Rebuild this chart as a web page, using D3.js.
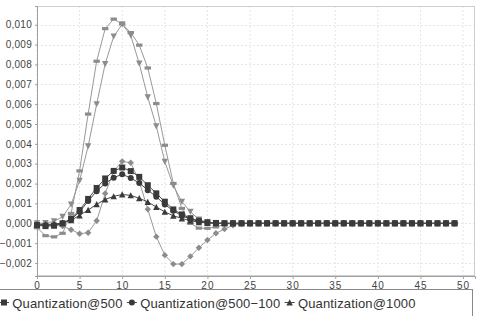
<!DOCTYPE html>
<html><head><meta charset="utf-8">
<script src="https://cdn.jsdelivr.net/npm/d3@7"></script>
<style>
html,body{margin:0;padding:0;background:#fff;overflow:hidden}
text{font-family:"Liberation Sans",Arial,sans-serif}
</style></head>
<body><svg id="c" width="484" height="316"></svg>
<script>
const xs = [0,1,2,3,4,5,6,7,8,9,10,11,12,13,14,15,16,17,18,19,20,21,22,23,24,25,26,27,28,29,30,31,32,33,34,35,36,37,38,39,40,41,42,43,44,45,46,47,48,49];
const seriesNames = ["Quantization@500","Quantization@500\u2212100","Quantization@1000","Quantization@A","Quantization@B","Quantization@C"];
const q500 = [-0.00009,-0.00014,-0.00012,0.00000,0.00024,0.00067,0.00123,0.00178,0.00226,0.00264,0.00281,0.00263,0.00234,0.00192,0.00151,0.00109,0.00070,0.00045,0.00026,0.00013,0.00005,0.00002,0,0,0,0,0,0,0,0,0,0,0,0,0,0,0,0,0,0,0,0,0,0,0,0,0,0,0,0];
const q500_100 = [-0.00010,-0.00010,-0.00008,0.00000,0.00020,0.00058,0.00112,0.00162,0.00201,0.00230,0.00247,0.00228,0.00203,0.00167,0.00134,0.00095,0.00063,0.00038,0.00021,0.00010,0.00004,0.00001,0,0,0,0,0,0,0,0,0,0,0,0,0,0,0,0,0,0,0,0,0,0,0,0,0,0,0,0];
const q1000 = [-0.00005,-0.00006,-0.00004,0.00002,0.00016,0.00040,0.00067,0.00096,0.00120,0.00136,0.00145,0.00141,0.00126,0.00108,0.00082,0.00058,0.00038,0.00025,0.00013,0.00006,0.00002,0,0,0,0,0,0,0,0,0,0,0,0,0,0,0,0,0,0,0,0,0,0,0,0,0,0,0,0,0];
const qDiamond = [0.00000,-0.00005,-0.00010,-0.00014,-0.00032,-0.00052,-0.00047,0.00013,0.00150,0.00262,0.00312,0.00305,0.00210,0.00071,-0.00067,-0.00160,-0.00205,-0.00205,-0.00166,-0.00123,-0.00084,-0.00050,-0.00029,-0.00010,-0.00002,0,0,0,0,0,0,0,0,0,0,0,0,0,0,0,0,0,0,0,0,0,0,0,0,0];
const qRect = [-0.00022,-0.00062,-0.00068,-0.00050,0.00050,0.00264,0.00550,0.00816,0.00980,0.01028,0.01003,0.00960,0.00897,0.00782,0.00603,0.00393,0.00201,0.00075,0.00000,-0.00024,-0.00025,-0.00018,-0.00005,0,0,0,0,0,0,0,0,0,0,0,0,0,0,0,0,0,0,0,0,0,0,0,0,0,0,0];
const qTriDown = [0.00000,0.00002,0.00010,0.00033,0.00095,0.00215,0.00388,0.00600,0.00802,0.00941,0.01002,0.00946,0.00804,0.00635,0.00489,0.00310,0.00190,0.00109,0.00058,0.00020,0.00005,0,0,0,0,0,0,0,0,0,0,0,0,0,0,0,0,0,0,0,0,0,0,0,0,0,0,0,0,0];
const xTicks = [0,5,10,15,20,25,30,35,40,45,50];
const yTicks = [-0.002,-0.001,0,0.001,0.002,0.003,0.004,0.005,0.006,0.007,0.008,0.009,0.010];

const series = [
  {name:seriesNames[0], values:q500, shape:"square", fill:"#3a3a3a", line:"#4a4a4a"},
  {name:seriesNames[1], values:q500_100, shape:"circle", fill:"#3a3a3a", line:"#4a4a4a"},
  {name:seriesNames[2], values:q1000, shape:"triUp", fill:"#3a3a3a", line:"#4a4a4a"},
  {name:seriesNames[3], values:qDiamond, shape:"diamond", fill:"#8c8c8c", line:"#999"},
  {name:seriesNames[4], values:qRect, shape:"hrect", fill:"#8c8c8c", line:"#999"},
  {name:seriesNames[5], values:qTriDown, shape:"triDown", fill:"#8c8c8c", line:"#999"}
];

const L=37, R=475, T=6, B=276;
const x = d3.scaleLinear().domain([0,51.4]).range([L,R]);
const y = d3.scaleLinear().domain([-0.00265,0.01094]).range([B,T]);
const loc = d3.formatLocale({decimal:",",thousands:".",grouping:[3],currency:["",""],minus:"\u2212"});
const fy = loc.format(".3f");

const svg = d3.select("#c");
// grid
const g = svg.append("g");
g.selectAll("line.gx").data(xTicks).join("line")
 .attr("x1",d=>x(d)).attr("x2",d=>x(d)).attr("y1",T).attr("y2",B)
 .attr("stroke","#e6e6e6").attr("stroke-width",1).attr("stroke-dasharray","2,2");
g.selectAll("line.gy").data(yTicks).join("line")
 .attr("y1",d=>Math.round(y(d))+0.5).attr("y2",d=>Math.round(y(d))+0.5).attr("x1",L).attr("x2",R)
 .attr("stroke","#e6e6e6").attr("stroke-width",1).attr("stroke-dasharray","2,2");
svg.append("rect").attr("x",L+0.5).attr("y",T+0.5).attr("width",R-L-1).attr("height",B-T-1)
 .attr("fill","none").attr("stroke","#cfcfcf");

// axes
const xAxis = d3.axisBottom(x).tickValues(xTicks).tickSize(3).tickPadding(3).tickFormat(d3.format("d"));
const gx = svg.append("g").attr("transform",`translate(0,${B})`).call(xAxis);
const yAxis = d3.axisLeft(y).tickValues(yTicks).tickSize(2).tickPadding(3).tickFormat(fy);
const gy = svg.append("g").attr("transform",`translate(${L},0)`).call(yAxis);
[gx,gy].forEach(a=>{
  a.select(".domain").attr("stroke","#a0a0a0");
  a.selectAll(".tick line").attr("stroke","#a0a0a0");
  a.selectAll("text").attr("fill","#444").style("font-family","'Liberation Sans',Arial,sans-serif").style("font-size","10px");
});
gx.selectAll("text").style("letter-spacing","1px");
gy.selectAll("text").style("letter-spacing","0.25px");

// lines (drawn first, reverse order)
const lineGen = d3.line().x((d,i)=>x(xs[i])).y(d=>y(d));
const order = series.slice().reverse();
svg.append("g").selectAll("path").data(order).join("path")
 .attr("d",s=>lineGen(s.values)).attr("fill","none").attr("stroke",s=>s.line).attr("stroke-width",1);

function shapePath(shape){
  switch(shape){
    case "square": return "M-3,-3h6v6h-6z";
    case "circle": return "M3,0A3,3 0 1,1 -3,0A3,3 0 1,1 3,0z";
    case "triUp": return "M0,-3.2L3.2,3L-3.2,3z";
    case "triDown": return "M0,3.2L3.2,-3L-3.2,-3z";
    case "diamond": return "M0,-3.2L3.2,0L0,3.2L-3.2,0z";
    case "hrect": return "M-3.2,-1.6h6.4v3.2h-6.4z";
  }
}
order.forEach(s=>{
  svg.append("g").selectAll("path").data(s.values).join("path")
   .attr("transform",(d,i)=>`translate(${x(xs[i])},${y(d)})`)
   .attr("d",shapePath(s.shape)).attr("fill",s.fill);
});

// legend
const lg = svg.append("g");
lg.append("rect").attr("x",-5.5).attr("y",289.5).attr("width",478).attr("height",40)
  .attr("fill","#fff").attr("stroke","#888");
let cx = 4;
series.slice(0,3).forEach((s,i)=>{
  lg.append("line").attr("x1",cx-5).attr("x2",cx+5).attr("y1",302.5).attr("y2",302.5).attr("stroke",s.line);
  lg.append("path").attr("transform",`translate(${cx},302.5)`).attr("d",shapePath(s.shape)).attr("fill",s.fill);
  const t = lg.append("text").attr("x",cx+8.3).attr("y",307.5).text(s.name)
    .attr("fill","#333").style("font-size","13px").style("letter-spacing","0.15px");
  cx = cx + 8.3 + t.node().getComputedTextLength() + 9.3;
});
</script></body></html>
